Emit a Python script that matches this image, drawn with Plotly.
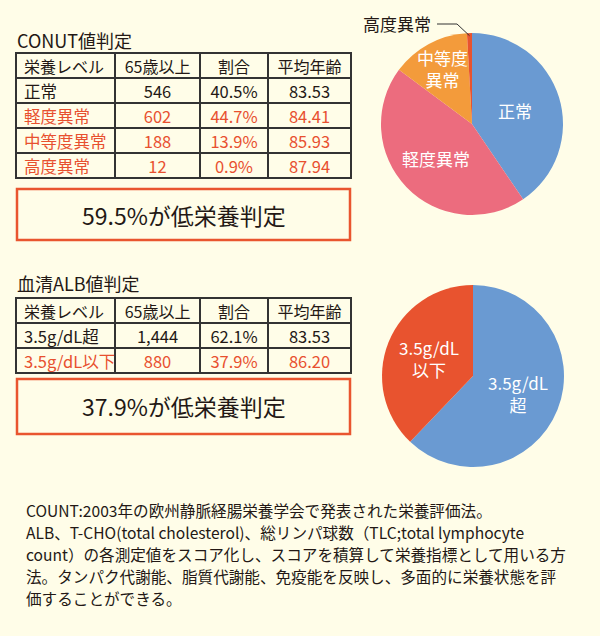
import math
import plotly.graph_objects as go

W, H = 600, 636
FONT = "Noto Sans CJK JP"
BG = "#FFFDE8"
INK = "#231815"
RED_TXT = "#E8502F"
BOX_RED = "#E9552F"

# ---------------- data ----------------
conut_title = "CONUT値判定"
conut_header = ["栄養レベル", "65歳以上", "割合", "平均年齢"]
conut_levels = ["正常", "軽度異常", "中等度異常", "高度異常"]
conut_counts = [546, 602, 188, 12]
conut_share = ["40.5%", "44.7%", "13.9%", "0.9%"]
conut_age = ["83.53", "84.41", "85.93", "87.94"]
conut_pie_labels = ["正常", "軽度異常", "中等度<br>異常", "高度異常"]
conut_summary = "59.5%が低栄養判定"

alb_title = "血清ALB値判定"
alb_header = ["栄養レベル", "65歳以上", "割合", "平均年齢"]
alb_levels = ["3.5g/dL超", "3.5g/dL以下"]
alb_counts = [1444, 880]
alb_share = ["62.1%", "37.9%"]
alb_age = ["83.53", "86.20"]
alb_pie_labels = ["3.5g/dL<br>超", "3.5g/dL<br>以下"]
alb_summary = "37.9%が低栄養判定"

note_lines = [
    "COUNT:2003年の欧州静脈経腸栄養学会で発表された栄養評価法。",
    "ALB、T-CHO(total cholesterol)、総リンパ球数（TLC;total lymphocyte",
    "count）の各測定値をスコア化し、スコアを積算して栄養指標として用いる方",
    "法。タンパク代謝能、脂質代謝能、免疫能を反映し、多面的に栄養状態を評",
    "価することができる。",
]

conut_colors = ["#6A9AD2", "#EC6C7E", "#F39B3B", "#E8532F"]
alb_colors = ["#6A9AD2", "#E8532F"]

# ---------------- helpers ----------------
def px(x):
    return x / W

def py(y):
    return 1 - y / H

fig = go.Figure()
annotations = []
shapes = []


def add_table(top, values, header, row_red):
    n = len(values[0])
    rowh = 25
    colors = [[INK if not r else RED_TXT for r in row_red] for _ in range(4)]
    fig.add_trace(go.Table(
        domain=dict(x=[px(16), px(351)], y=[py(top + rowh * (n + 1) + 2), py(top)]),
        columnwidth=[99, 85, 68, 83],
        header=dict(values=header, height=rowh, fill_color=BG,
                    line=dict(color="#333333", width=1.4),
                    align=["left", "center", "center", "center"],
                    font=dict(family=FONT, size=16, color=INK)),
        cells=dict(values=values, height=rowh, fill_color=BG,
                   line=dict(color="#333333", width=1.4),
                   align=["left", "center", "center", "center"],
                   font=dict(family=FONT, size=16.5, color=colors)),
    ))


def add_pie(cx, cy, r, labels, vals, colors, label_text, label_r, label_color="white"):
    fig.add_trace(go.Pie(
        labels=labels, values=vals, sort=False, direction="clockwise", rotation=0,
        marker=dict(colors=colors, line=dict(width=0)),
        textinfo="none", hoverinfo="label+percent", showlegend=False,
        domain=dict(x=[px(cx - r), px(cx + r)], y=[py(cy + r), py(cy - r)]),
    ))
    total = sum(vals)
    cum = 0
    mids = []
    for v in vals:
        mids.append((cum + v / 2) / total * 2 * math.pi)
        cum += v
    for t, th, f in zip(label_text, mids, label_r):
        if not t:
            continue
        x = cx + f * r * math.sin(th)
        y = cy - f * r * math.cos(th)
        annotations.append(dict(x=px(x), y=py(y), xref="paper", yref="paper",
                                text=t, showarrow=False, xanchor="center", yanchor="middle",
                                font=dict(family=FONT, size=17, color=label_color)))
    return mids


# ---------------- CONUT ----------------
annotations.append(dict(x=px(15), y=py(40), xref="paper", yref="paper", text=conut_title,
                        showarrow=False, xanchor="left", yanchor="middle",
                        font=dict(family=FONT, size=18, color=INK)))
add_table(53, [conut_levels, [str(c) for c in conut_counts], conut_share, conut_age],
          conut_header, [False, True, True, True])
shapes.append(dict(type="rect", xref="paper", yref="paper", x0=px(17), x1=px(350),
                   y0=py(189), y1=py(240), line=dict(color=BOX_RED, width=2.5)))
annotations.append(dict(x=px(183.5), y=py(215), xref="paper", yref="paper", text=conut_summary,
                        showarrow=False, xanchor="center", yanchor="middle",
                        font=dict(family=FONT, size=23, color=INK)))

c1x, c1y, R = 472, 124, 91
mids1 = add_pie(c1x, c1y, R, conut_levels, conut_counts, conut_colors,
                ["正常", "軽度異常", "中等度<br>異常", ""], [0.5, 0.55, 0.69, 0])
# outside label for the tiny slice with a leader line
th = mids1[3]
ex = c1x + 0.97 * R * math.sin(th)
ey = c1y - 0.97 * R * math.cos(th)
shapes.append(dict(type="path", xref="paper", yref="paper",
                   path=f"M {px(437)} {py(24)} L {px(457)} {py(24)} L {px(ex)} {py(ey)}",
                   line=dict(color="#333", width=1)))
annotations.append(dict(x=px(433), y=py(24), xref="paper", yref="paper", text=conut_pie_labels[3],
                        showarrow=False, xanchor="right", yanchor="middle",
                        font=dict(family=FONT, size=17, color=INK)))

# ---------------- ALB ----------------
annotations.append(dict(x=px(15), y=py(283), xref="paper", yref="paper", text=alb_title,
                        showarrow=False, xanchor="left", yanchor="middle",
                        font=dict(family=FONT, size=18, color=INK)))
add_table(298, [alb_levels, [f"{c:,}" for c in alb_counts], alb_share, alb_age],
          alb_header, [False, True])
shapes.append(dict(type="rect", xref="paper", yref="paper", x0=px(17), x1=px(350),
                   y0=py(379), y1=py(434), line=dict(color=BOX_RED, width=2.5)))
annotations.append(dict(x=px(183.5), y=py(406), xref="paper", yref="paper", text=alb_summary,
                        showarrow=False, xanchor="center", yanchor="middle",
                        font=dict(family=FONT, size=23, color=INK)))

add_pie(473, 376, R, alb_levels, alb_counts, alb_colors, alb_pie_labels, [0.53, 0.52])

# ---------------- note ----------------
for i, line in enumerate(note_lines):
    annotations.append(dict(x=px(24), y=py(510 + 22 * i), xref="paper", yref="paper", text=line,
                            showarrow=False, xanchor="left", yanchor="middle",
                            font=dict(family=FONT, size=15.6, color=INK)))

fig.update_layout(
    width=W, height=H, margin=dict(l=0, r=0, t=0, b=0),
    paper_bgcolor=BG, plot_bgcolor=BG,
    annotations=annotations, shapes=shapes, showlegend=False,
)
fig.write_html("out.html")
